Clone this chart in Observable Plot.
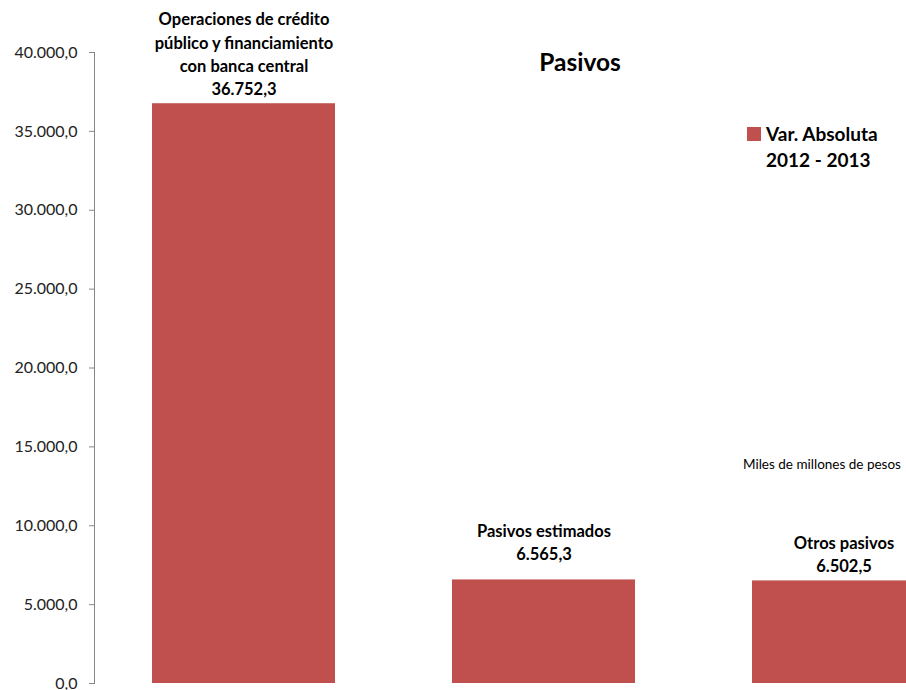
<!DOCTYPE html>
<html><head><meta charset="utf-8">
<script src="https://cdn.jsdelivr.net/npm/d3@7"></script>
<script src="https://cdn.jsdelivr.net/npm/@observablehq/plot@0.6"></script>
<style>
html,body{margin:0;padding:0;background:#fff;overflow:hidden;}
#wrap{position:relative;width:906px;height:690px;font-family:Lato,"Open Sans",sans-serif;color:#000;}
#wrap svg{position:absolute;left:0;top:0;}
#title{position:absolute;left:480px;width:200px;top:47px;line-height:30px;text-align:center;font-weight:bold;font-size:24.5px;}
#legend{position:absolute;left:747px;top:121px;}
#legend .sw{position:absolute;left:0;top:6px;width:14px;height:14px;background:#C0504D;}
#legend .tx{position:absolute;left:19px;top:0;white-space:nowrap;font-weight:bold;font-size:19px;line-height:26px;}
#note{position:absolute;left:743px;top:456px;font-size:13.5px;line-height:16px;white-space:nowrap;}
</style></head>
<body>
<div id="wrap">
  <div id="chart"></div>
</div>
<script>
// Data
const categories = ["Operaciones de crédito\npúblico y financiamiento\ncon banca central", "Pasivos estimados", "Otros pasivos"];
const values = [36752.3, 6565.3, 6502.5];
const yTicks = [0, 5000, 10000, 15000, 20000, 25000, 30000, 35000, 40000];
const titleText = "Pasivos";
const legendLabel = "Var. Absoluta\n2012 - 2013";
const unitsNote = "Miles de millones de pesos";

const locale = d3.formatLocale({decimal: ",", thousands: ".", grouping: [3], currency: ["$", ""]});
const fmt = locale.format(",.1f");
const data = categories.map((c, i) => ({category: c, value: values[i], i}));

const chart = Plot.plot({
  width: 906, height: 690,
  marginLeft: 94, marginRight: 0, marginTop: 52, marginBottom: 7,
  style: {fontFamily: "Lato, 'Open Sans', sans-serif", fontSize: "16px", background: "transparent", color: "#000"},
  x: {domain: categories, range: [94, 993], paddingInner: 0.39, paddingOuter: 0.193, axis: null},
  y: {domain: [0, 40000], axis: null},
  marks: [
    Plot.barY(data, {x: "category", y: "value", fill: "#C0504D"}),
    Plot.frame({anchor: "left", stroke: "#868686"}),
    Plot.axisY({ticks: yTicks, tickFormat: fmt, tickSize: 5, tickPadding: 12, stroke: "#868686", fill: "#222", fontSize: 16, label: null}),
    Plot.text(data.filter(d => d.i !== 1), {x: "category", y: "value", text: d => d.category + "\n" + fmt(d.value), lineAnchor: "bottom", dy: -9, fontWeight: "bold", fontSize: 16.5, lineHeight: 1.4, fill: "#000"}),
    Plot.text(data.filter(d => d.i === 1), {x: "category", y: "value", text: d => d.category + "\n" + fmt(d.value), lineAnchor: "bottom", dy: -20, fontWeight: "bold", fontSize: 16.5, lineHeight: 1.4, fill: "#000"})
  ]
});
document.getElementById("chart").appendChild(chart);

const wrap = document.getElementById("wrap");
const t = document.createElement("div"); t.id = "title"; t.textContent = titleText; wrap.appendChild(t);
const lg = document.createElement("div"); lg.id = "legend";
lg.innerHTML = '<div class="sw"></div>';
const lt = document.createElement("div"); lt.className = "tx";
legendLabel.split("\n").forEach((s, k) => { if (k) lt.appendChild(document.createElement("br")); lt.appendChild(document.createTextNode(s)); });
lg.appendChild(lt); wrap.appendChild(lg);
const n = document.createElement("div"); n.id = "note"; n.textContent = unitsNote; wrap.appendChild(n);
</script>
</body></html>
